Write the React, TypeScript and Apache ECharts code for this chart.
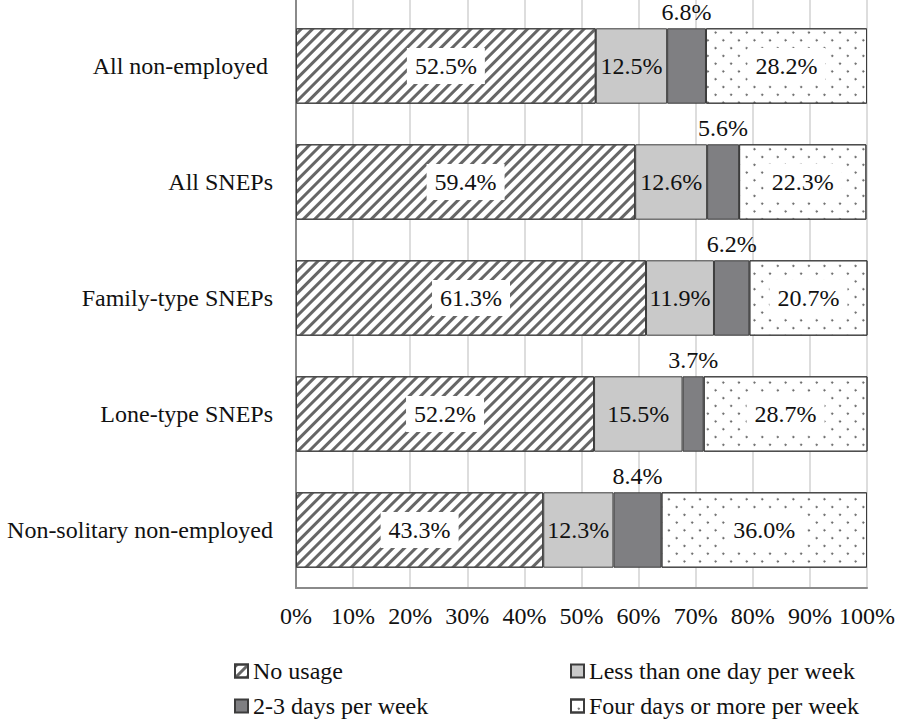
import React, { useEffect, useRef } from "react";
import * as echarts from "echarts";

const categories = [
  "All non-employed",
  "All SNEPs",
  "Family-type SNEPs",
  "Lone-type SNEPs",
  "Non-solitary non-employed",
];
const seriesNames = [
  "No usage",
  "Less than one day per week",
  "2-3 days per week",
  "Four days or more per week",
];
const noUsage = [52.5, 59.4, 61.3, 52.2, 43.3];
const lessThanOne = [12.5, 12.6, 11.9, 15.5, 12.3];
const twoToThree = [6.8, 5.6, 6.2, 3.7, 8.4];
const fourOrMore = [28.2, 22.3, 20.7, 28.7, 36.0];

const FONT = "Times New Roman, Liberation Serif, DejaVu Serif, serif";
const TEXT = "#111";
const AXIS = "#8a8a8a";
const GRIDC = "#d2d2d2";
const BORDER = "#3c3c3c";

export default function App() {
  const ref = useRef<HTMLDivElement>(null);
  useEffect(() => {
    if (!ref.current) return;
    const chart = echarts.init(ref.current, undefined, { renderer: "svg" });
    const fmt = (p: any) => Number(p.value).toFixed(1) + "%";
    const baseLabel = {
      show: true,
      formatter: fmt,
      fontFamily: FONT,
      fontSize: 24,
      color: TEXT,
    };
    const legendBase = {
      icon: "rect",
      itemWidth: 13,
      itemHeight: 13,
      padding: 0,
      textStyle: { fontFamily: FONT, fontSize: 24, color: TEXT },
      selectedMode: false,
    };
    chart.setOption({
      animation: false,
      backgroundColor: "#fff",
      textStyle: { fontFamily: FONT },
      grid: [
        { left: 296, right: 32, top: 8, bottom: 136 },
        { left: 296, right: 32, top: 0, height: 8 },
      ],
      legend: [
        { ...legendBase, data: [seriesNames[0]], left: 234, top: 659 },
        { ...legendBase, data: [seriesNames[1]], left: 570, top: 659 },
        { ...legendBase, data: [seriesNames[2]], left: 234, top: 694 },
        { ...legendBase, data: [seriesNames[3]], left: 570, top: 694 },
      ],
      xAxis: [
        {
          type: "value",
          min: 0,
          max: 100,
          interval: 10,
          axisLine: { show: true, lineStyle: { color: AXIS, width: 2 } },
          axisTick: { show: false },
          splitLine: { show: true, lineStyle: { color: GRIDC, width: 1.5 } },
          axisLabel: {
            formatter: "{value}%",
            fontFamily: FONT,
            fontSize: 24,
            color: TEXT,
            margin: 16,
          },
        },
        {
          type: "value",
          gridIndex: 1,
          min: 0,
          max: 100,
          interval: 10,
          axisLine: { show: false },
          axisTick: { show: false },
          axisLabel: { show: false },
          splitLine: { show: true, lineStyle: { color: GRIDC, width: 1.5 } },
        },
      ],
      yAxis: [
        {
          type: "category",
          inverse: true,
          data: categories.map((c, i) =>
            i === 0 ? { value: c, textStyle: { padding: [0, 5, 0, 0] } } : c
          ),
          axisLine: { show: true, lineStyle: { color: AXIS, width: 2 } },
          axisTick: { show: false },
          axisLabel: {
            fontFamily: FONT,
            fontSize: 24,
            color: TEXT,
            margin: 23,
          },
        },
        {
          type: "category",
          gridIndex: 1,
          data: [""],
          axisLine: { show: true, lineStyle: { color: AXIS, width: 2 } },
          axisTick: { show: false },
          axisLabel: { show: false },
        },
      ],
      series: [
        {
          name: seriesNames[0],
          type: "bar",
          stack: "total",
          barCategoryGap: "35%",
          data: noUsage,
          itemStyle: {
            color: "#ffffff",
            borderColor: BORDER,
            borderWidth: 1,
            decal: {
              symbol: "rect",
              symbolSize: 1,
              color: "#666666",
              backgroundColor: "#ffffff",
              dashArrayX: [1, 0],
              dashArrayY: [2.5, 4.5],
              rotation: -Math.PI / 4,
            },
          },
          label: {
            ...baseLabel,
            position: "inside",
            backgroundColor: "#ffffff",
            padding: [6, 8],
          },
        },
        {
          name: seriesNames[1],
          type: "bar",
          stack: "total",
          data: lessThanOne,
          itemStyle: { color: "#c9c9c9", borderColor: BORDER, borderWidth: 1 },
          label: { ...baseLabel, position: "inside" },
        },
        {
          name: seriesNames[2],
          type: "bar",
          stack: "total",
          data: twoToThree,
          itemStyle: { color: "#7f7f82", borderColor: BORDER, borderWidth: 1 },
          label: { ...baseLabel, position: "top", distance: 4 },
        },
        {
          name: seriesNames[3],
          type: "bar",
          stack: "total",
          data: fourOrMore,
          itemStyle: {
            color: "#ffffff",
            borderColor: BORDER,
            borderWidth: 1,
            decal: {
              symbol: "circle",
              symbolSize: 1,
              color: "#555555",
              backgroundColor: "#ffffff",
              dashArrayX: [2, 8.6],
              dashArrayY: [2, 8.6],
              rotation: Math.PI / 4,
            },
          },
          label: {
            ...baseLabel,
            position: "inside",
            backgroundColor: "#ffffff",
            padding: [6, 8],
          },
        },
      ],
    });
    return () => chart.dispose();
  }, []);
  return (
    <div
      ref={ref}
      style={{ position: "fixed", left: 0, top: 0, width: 899, height: 724 }}
    />
  );
}
